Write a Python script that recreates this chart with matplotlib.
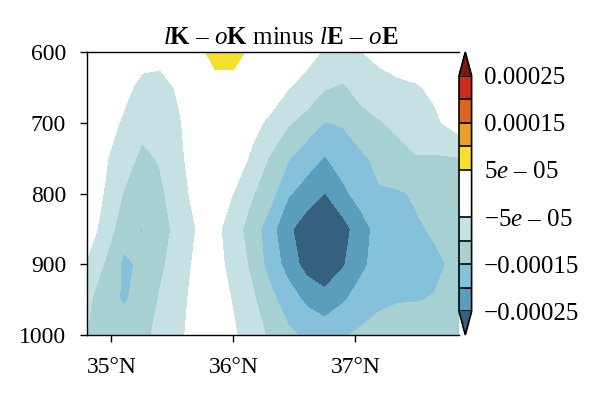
import matplotlib
matplotlib.use('Agg')
import matplotlib.pyplot as plt
import matplotlib.ticker as ticker
from matplotlib.colors import ListedColormap, BoundaryNorm
import numpy as np

plt.rcParams['font.family'] = ['Liberation Serif', 'DejaVu Serif']
plt.rcParams['mathtext.fontset'] = 'custom'
plt.rcParams['mathtext.rm'] = 'Liberation Serif'
plt.rcParams['mathtext.it'] = 'Liberation Serif:italic'
plt.rcParams['mathtext.bf'] = 'Liberation Serif:bold'

# Latitude (deg N) and pressure (hPa) grid
lats = [34.8, 34.95, 35.1, 35.25, 35.4, 35.55, 35.7, 35.85, 36.0, 36.15, 36.3,
        36.45, 36.6, 36.75, 36.9, 37.05, 37.2, 37.35, 37.5, 37.65, 37.85]
levels_hpa = [600, 650, 700, 750, 800, 850, 900, 950, 1000]

# difference field, in units of 1e-5, one list per pressure level
d600 = [-1, -1.5, -2.5, -3.5, -3.5, -2, 3, 7, 6.5, 4, 1,
        -1, -3.5, -5.5, -7, -5.1, -3.5, -2.5, -1.5, -1, -0.5]
d650 = [-1.5, -2.5, -4, -6, -6.5, -4.5, -1, 3, 3.5, 0, -2,
        -4.8, -6.5, -9.7, -10.5, -8.5, -7, -6, -5.5, -4, -2]
d700 = [-2, -3.5, -5.5, -8, -8, -5.5, -2.5, -0.5, 0, -3.5, -6,
        -9.5, -12, -15.2, -14.5, -11.5, -10.3, -9, -7.5, -6, -2.5]
d750 = [-3, -4.7, -7, -11.5, -9.5, -6, -3, -0.5, -2, -5.8, -10.5,
        -14.5, -18, -20.3, -18, -16, -13.5, -11.5, -10.3, -10.5, -10.2]
d800 = [-3.5, -5.2, -10.3, -12, -11, -7, -3.5, -2, -5.1, -9.5, -13,
        -19.5, -22, -25.2, -21, -18, -15.5, -15.5, -14.5, -13, -12]
d850 = [-2.5, -7, -13, -15.2, -12, -8.5, -4.8, -3.5, -8, -12, -18,
        -24, -28, -29.5, -27, -22, -18, -16.5, -15.5, -14.5, -13]
d900 = [-5.5, -10.5, -16, -14.2, -11, -7.5, -4, -3.5, -6.5, -11, -17,
        -22, -27, -29, -25.5, -21, -18, -17, -16.5, -15.8, -14]
d950 = [-9, -13, -15.5, -13.5, -9.5, -6.5, -3.5, -3, -5.3, -9, -13.5,
        -17.5, -21, -23, -20.5, -18, -16, -15.3, -15.2, -14.8, -13]
d1000 = [-10, -12.5, -12.5, -11.5, -8.5, -5.8, -3.5, -2.5, -4.5, -7, -11,
         -14, -16, -17, -15.5, -14, -13, -12.5, -12.5, -12, -12]

clevs = [-0.00025, -0.0002, -0.00015, -0.0001, -5e-05, 5e-05,
         0.0001, 0.00015, 0.0002, 0.00025]
cbar_ticks = [-0.00025, -0.00015, -5e-05, 5e-05, 0.00015, 0.00025]
cbar_labels = ['\u22120.00025', '\u22120.00015', '\u22125$e$ \u2013 05',
               '5$e$ \u2013 05', '0.00015', '0.00025']

colors = ['#5b9dbd', '#86c1db', '#a6d0d2', '#c5e1e3', '#ffffff',
          '#f6df2d', '#e9a028', '#da6620', '#cc2d1f']
cmap = ListedColormap(colors)
cmap.set_under('#36607f')
cmap.set_over('#7b1715')
norm = BoundaryNorm(clevs, cmap.N)

field = np.array([d600, d650, d700, d750, d800, d850, d900, d950, d1000]) * 1e-5
X, Y = np.meshgrid(lats, levels_hpa)

fig = plt.figure(figsize=(6, 3.93), dpi=100)
ax = fig.add_axes([0.145, 0.1476, 0.62, 0.72])
cf = ax.contourf(X, Y, field, levels=clevs, cmap=cmap, norm=norm, extend='both')

ax.set_xlim(34.8, 37.85)
ax.set_ylim(1000, 600)
ax.set_xticks([35, 36, 37])
ax.xaxis.set_major_formatter(ticker.FuncFormatter(lambda v, p: f"{int(round(v))}°N"))
ax.set_yticks([600, 700, 800, 900, 1000])
ax.tick_params(direction='out', length=5, width=1, labelsize=17)
ax.tick_params(axis='x', pad=11)
ax.tick_params(axis='y', pad=10)
for s in ax.spines.values():
    s.set_linewidth(1)
ax.spines['right'].set_visible(False)

title = '$l\\mathbf{K}$ \u2013 $o\\mathbf{K}$ minus $l\\mathbf{E}$ \u2013 $o\\mathbf{E}$'
ax.set_title(title, fontsize=18, pad=6, x=0.52)

cax = fig.add_axes([0.765, 0.1476, 0.021, 0.72])
cb = fig.colorbar(cf, cax=cax, spacing='proportional', extendfrac=0.1)
cb.set_ticks(cbar_ticks)
cb.set_ticklabels(cbar_labels)
cb.ax.minorticks_off()
cb.ax.tick_params(length=0, labelsize=18, pad=9)
cb.outline.set_linewidth(1.2)
# level dividers inside the bar
cax.hlines(clevs, 0, 1, transform=cax.get_yaxis_transform(),
           colors='black', linewidth=1.2)

fig.savefig('out.png', dpi=100)
